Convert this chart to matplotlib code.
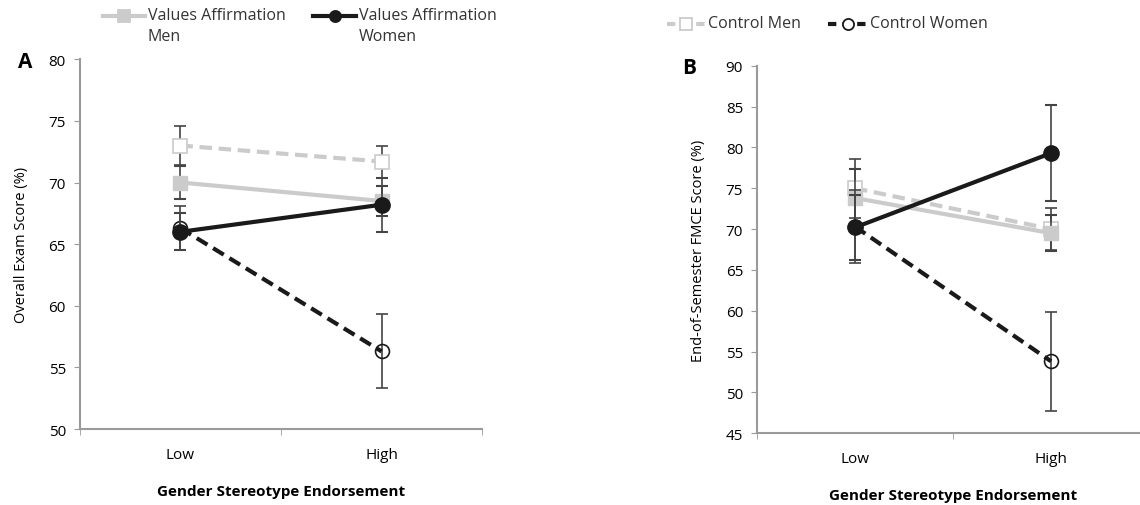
import numpy as np
import matplotlib
matplotlib.use("Agg")
import matplotlib.pyplot as plt
from matplotlib.lines import Line2D

plt.rcParams['font.family'] = ['Open Sans', 'DejaVu Sans']

# data
categories = ["Low", "High"]

# panel A: overall exam score
va_men_a = [70.0, 68.5]
va_men_a_err = [1.3, 1.2]
va_women_a = [66.0, 68.2]
va_women_a_err = [1.5, 2.2]
ctrl_men_a = [73.0, 71.7]
ctrl_men_a_err = [1.6, 1.3]
ctrl_women_a = [66.3, 56.3]
ctrl_women_a_err = [1.8, 3.0]

# panel B: FMCE score
va_men_b = [73.8, 69.5]
va_men_b_err = [3.5, 2.2]
va_women_b = [70.2, 79.3]
va_women_b_err = [4.0, 5.9]
ctrl_men_b = [75.0, 70.0]
ctrl_men_b_err = [3.6, 2.6]
ctrl_women_b = [70.3, 53.8]
ctrl_women_b_err = [4.5, 6.1]

light = '#cbcbcb'
dark = '#1a1a1a'
axis_col = '#9a9a9a'
W, H = 1140, 506

fig = plt.figure(figsize=(11.4, 5.06), dpi=100)
axA = fig.add_axes([0.070, 0.150, 0.353, 0.731])
axB = fig.add_axes([0.664, 0.142, 0.344, 0.726])

x = np.arange(len(categories))


def draw(ax, vm, vme, vw, vwe, cm, cme, cw, cwe):
    eb = dict(ecolor='#444444', elinewidth=1.2, capsize=4, capthick=1.5)
    ax.errorbar(x, cm, yerr=cme, color=light, lw=3, ls=(0, (3, 1.6)),
                marker='s', ms=10, mfc='white', mec=light, mew=1.2, zorder=2, **eb)
    ax.errorbar(x, vm, yerr=vme, color=light, lw=3, ls='-',
                marker='s', ms=10, mfc=light, mec=light, zorder=3, **eb)
    ax.errorbar(x, cw, yerr=cwe, color=dark, lw=3, ls=(0, (3, 1.6)),
                marker='o', ms=10, mfc='none', mec=dark, mew=1.2, zorder=4, **eb)
    ax.errorbar(x, vw, yerr=vwe, color=dark, lw=3, ls='-',
                marker='o', ms=11, mfc=dark, mec=dark, zorder=5, **eb)
    ax.set_xlim(-0.5, 1.5)
    ax.set_xticks(x)
    ax.set_xticklabels(categories, fontsize=11)
    ax.set_xticks([-0.5, 0.5, 1.5], minor=True)
    ax.tick_params(axis='x', which='major', length=0, pad=13)
    ax.tick_params(axis='x', which='minor', length=4, color=axis_col)
    ax.tick_params(axis='y', length=4, color=axis_col, labelsize=11, pad=6)
    for s in ['top', 'right']:
        ax.spines[s].set_visible(False)
    for s in ['left', 'bottom']:
        ax.spines[s].set_color(axis_col)
        ax.spines[s].set_linewidth(1.5)
    ax.set_xlabel("Gender Stereotype Endorsement", fontweight='bold', fontsize=11, labelpad=16)


draw(axA, va_men_a, va_men_a_err, va_women_a, va_women_a_err,
     ctrl_men_a, ctrl_men_a_err, ctrl_women_a, ctrl_women_a_err)
axA.set_ylim(50, 80)
axA.set_yticks(np.arange(50, 81, 5))
axA.set_ylabel("Overall Exam Score (%)", fontsize=10.5, labelpad=14)

draw(axB, va_men_b, va_men_b_err, va_women_b, va_women_b_err,
     ctrl_men_b, ctrl_men_b_err, ctrl_women_b, ctrl_women_b_err)
axB.set_ylim(45, 90)
axB.set_yticks(np.arange(45, 91, 5))
axB.set_ylabel("End-of-Semester FMCE Score (%)", fontsize=10.5, labelpad=14)

# panel letters
fig.text(18 / W, 1 - 62 / H, "A", fontsize=15, fontweight='bold', va='center')
fig.text(682 / W, 1 - 68 / H, "B", fontsize=15, fontweight='bold', va='center')


# legends drawn by hand so the key sits on the first text line
def legend_item(x0, x1, y, label, color, ls, marker, mfc):
    yy = 1 - y / H
    fig.add_artist(Line2D([x0 / W, x1 / W], [yy, yy], transform=fig.transFigure,
                          color=color, lw=3, ls=ls))
    fig.add_artist(Line2D([(x0 + x1) / 2 / W], [yy], transform=fig.transFigure,
                          ls='none', marker=marker, ms=8, mfc=mfc, mec=color, mew=1.3))
    fig.text((x1 + 3) / W, yy + 9 / H, label, fontsize=11.5, va='top',
             linespacing=1.45, color='#333333')


legend_item(103, 145, 17, "Values Affirmation\nMen", light, '-', 's', light)
legend_item(313, 356, 17, "Values Affirmation\nWomen", dark, '-', 'o', dark)
legend_item(667, 705, 25, "Control Men", light, (0, (2, 1.5)), 's', 'white')
legend_item(828, 867, 25, "Control Women", dark, (0, (2, 1.5)), 'o', 'white')

fig.savefig("out.png", dpi=100)
